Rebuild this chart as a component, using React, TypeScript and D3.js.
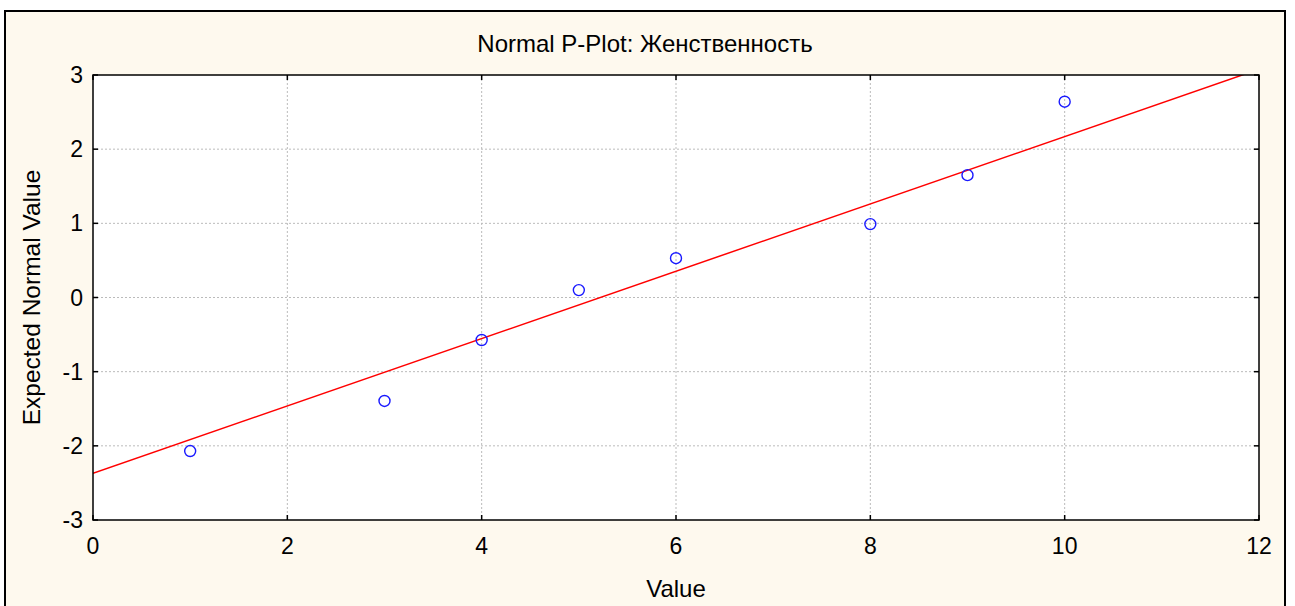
import React from "react";
import * as d3 from "d3";

const xValues = [1, 3, 4, 5, 6, 8, 9, 10];
const expectedNormal = [-2.07, -1.395, -0.573, 0.1, 0.53, 0.99, 1.65, 2.64];
const fitIntercept = -2.37;
const fitSlope = 0.454;
const xTicks = [0, 2, 4, 6, 8, 10, 12];
const yTicks = [-3, -2, -1, 0, 1, 2, 3];
const titleText = "Normal P-Plot: Женственность";
const xLabel = "Value";
const yLabel = "Expected Normal Value";

const W = 1295, H = 606;
const L = 93, R = 1259, T = 75, B = 520;
const font = "Arial, 'Liberation Sans', sans-serif";

export default function App() {
  const x = d3.scaleLinear().domain([0, 12]).range([L, R]);
  const y = d3.scaleLinear().domain([-3, 3]).range([B, T]);
  const fit = (v: number) => fitIntercept + fitSlope * v;
  const linePath = d3.line<number>().x((v) => x(v)).y((v) => y(fit(v)))([0, 12]) || "";
  return (
    <svg width={W} height={H} style={{ position: "absolute", left: 0, top: 0, background: "#fff" }}>
      <defs>
        <clipPath id="plotclip">
          <rect x={L} y={T} width={R - L} height={B - T} />
        </clipPath>
      </defs>
      <rect x={5} y={11} width={1280} height={H} fill="#fef9ee" stroke="#000" strokeWidth={2} />
      <rect x={L} y={T} width={R - L} height={B - T} fill="#fff" />
      {xTicks.slice(1, -1).map((t) => (
        <line key={"gx" + t} x1={x(t)} x2={x(t)} y1={T} y2={B} stroke="#bbb" strokeWidth={1} strokeDasharray="2,2" />
      ))}
      {yTicks.slice(1, -1).map((t) => (
        <line key={"gy" + t} x1={L} x2={R} y1={y(t)} y2={y(t)} stroke="#bbb" strokeWidth={1} strokeDasharray="2,2" />
      ))}
      <g clipPath="url(#plotclip)">
        <path d={linePath} stroke="#ff0000" strokeWidth={1.5} fill="none" />
      </g>
      {xValues.map((v, i) => (
        <circle key={i} cx={x(v)} cy={y(expectedNormal[i])} r={5.5} fill="none" stroke="#1a1aff" strokeWidth={1.4} />
      ))}
      <rect x={L} y={T} width={R - L} height={B - T} fill="none" stroke="#000" strokeWidth={1.5} />
      {xTicks.map((t) => (
        <g key={"tx" + t}>
          <line x1={x(t)} x2={x(t)} y1={B} y2={B - 5} stroke="#000" strokeWidth={1.5} />
          <line x1={x(t)} x2={x(t)} y1={T} y2={T + 5} stroke="#000" strokeWidth={1.5} />
          <text x={x(t)} y={554} textAnchor="middle" fontFamily={font} fontSize={23} fill="#000">{t}</text>
        </g>
      ))}
      {yTicks.map((t) => (
        <g key={"ty" + t}>
          <line x1={L} x2={L + 5} y1={y(t)} y2={y(t)} stroke="#000" strokeWidth={1.5} />
          <line x1={R} x2={R - 5} y1={y(t)} y2={y(t)} stroke="#000" strokeWidth={1.5} />
          <text x={83} y={y(t) + 8} textAnchor="end" fontFamily={font} fontSize={23} fill="#000">{t}</text>
        </g>
      ))}
      <text x={645} y={52} textAnchor="middle" fontFamily={font} fontSize={24} fill="#000">{titleText}</text>
      <text x={(L + R) / 2} y={597} textAnchor="middle" fontFamily={font} fontSize={24} fill="#000">{xLabel}</text>
      <text transform={`translate(40, ${(T + B) / 2}) rotate(-90)`} textAnchor="middle" fontFamily={font} fontSize={24.5} fill="#000">{yLabel}</text>
    </svg>
  );
}
